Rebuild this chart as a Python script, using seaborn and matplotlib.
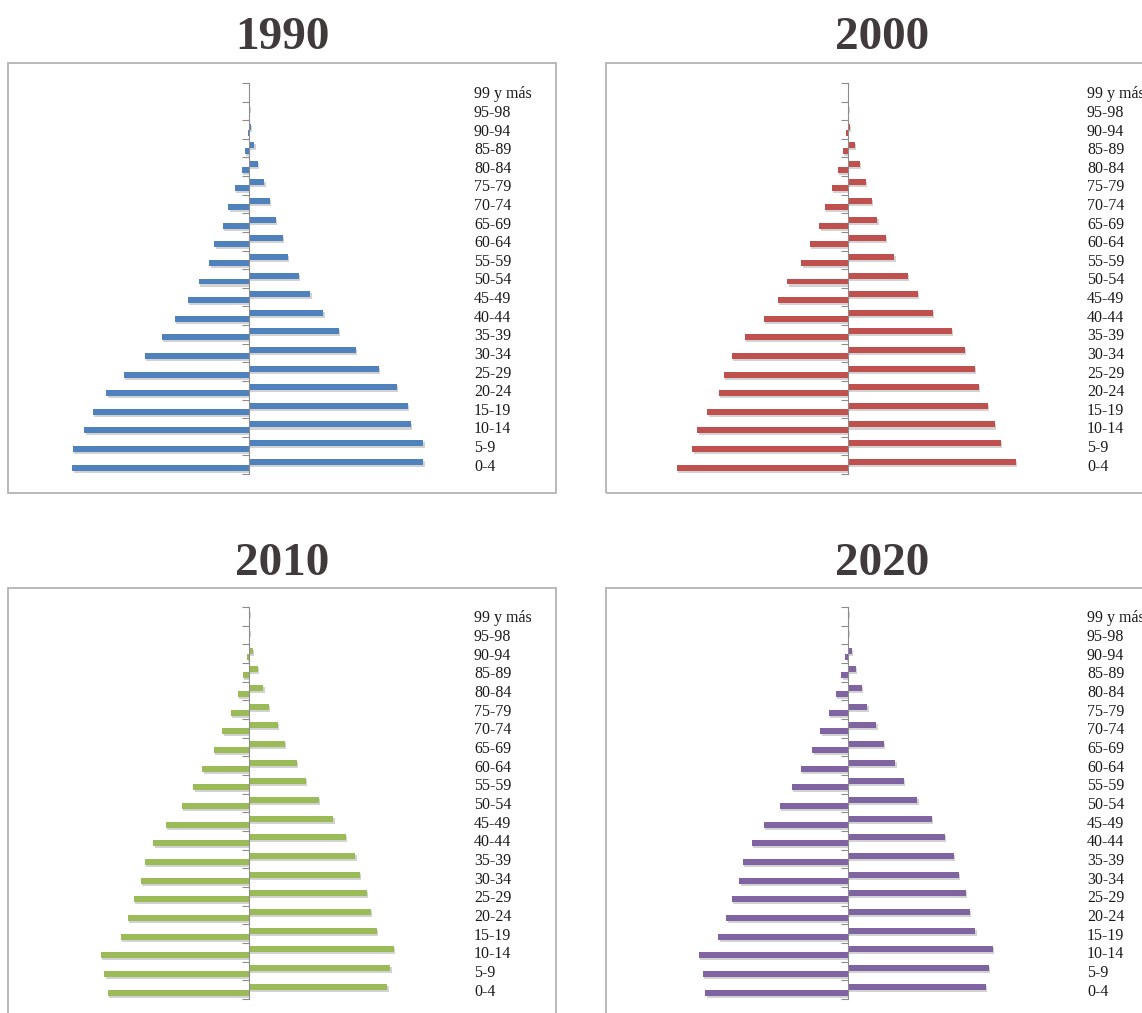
import numpy as np
import pandas as pd
import matplotlib
matplotlib.use("Agg")
from matplotlib import pyplot as plt
from matplotlib.patches import Rectangle
import matplotlib.patheffects as pe
import seaborn as sns

# grupos de edad, de arriba hacia abajo
edades = ["99 y más", "95-98", "90-94", "85-89", "80-84", "75-79", "70-74",
          "65-69", "60-64", "55-59", "50-54", "45-49", "40-44", "35-39",
          "30-34", "25-29", "20-24", "15-19", "10-14", "5-9", "0-4"]

# miles de personas (lado izquierdo = hombres, lado derecho = mujeres)
h1990 = [0, 10, 30, 120, 225, 420, 620, 790, 1040, 1190, 1500, 1840, 2220,
         2610, 3120, 3750, 4280, 4680, 4940, 5290, 5300]
m1990 = [0, 30, 60, 160, 270, 460, 630, 810, 1020, 1170, 1490, 1840, 2230,
         2690, 3200, 3890, 4430, 4770, 4850, 5230, 5230]

h2000 = [0, 10, 50, 165, 300, 480, 690, 860, 1150, 1400, 1820, 2100, 2520,
         3090, 3480, 3720, 3870, 4220, 4520, 4670, 5140]
m2000 = [0, 20, 60, 210, 360, 540, 720, 880, 1140, 1390, 1800, 2090, 2550,
         3120, 3510, 3810, 3930, 4190, 4410, 4590, 5040]

h2010 = [0, 15, 60, 180, 340, 540, 800, 1050, 1400, 1670, 2010, 2500, 2870,
         3130, 3240, 3460, 3630, 3850, 4440, 4340, 4240]
m2010 = [20, 30, 120, 260, 430, 600, 860, 1080, 1440, 1700, 2090, 2530, 2900,
         3190, 3320, 3540, 3650, 3830, 4340, 4240, 4150]

h2020 = [0, 10, 85, 200, 360, 570, 830, 1070, 1420, 1680, 2040, 2520, 2890,
         3150, 3260, 3480, 3650, 3890, 4480, 4360, 4280]
m2020 = [15, 20, 105, 240, 420, 580, 850, 1080, 1420, 1680, 2080, 2510, 2900,
         3180, 3320, 3530, 3650, 3820, 4340, 4230, 4140]

anios = ["1990", "2000", "2010", "2020"]
colores = ["#4f81bd", "#c0504d", "#9bbb59", "#8064a2"]

W, H = 1142, 1013
fig = plt.figure(figsize=(W / 100, H / 100), dpi=100)


def fx(px):
    return px / W


def fy(py):
    return 1 - py / H


escala = 30  # miles de personas por pixel
gris = "#8c8c8c"

# (caja izq, caja arriba, eje x, categorias arriba, categorias abajo, texto x, titulo x, titulo base)
marcos = [(8, 63, 249, 83, 474, 474, 282, 49),
          (606, 63, 848, 83, 474, 1087, 882, 49),
          (8, 588, 249, 607, 999, 474, 282, 575),
          (606, 588, 848, 607, 999, 1087, 882, 575)]
hombres = [h1990, h2000, h2010, h2020]
mujeres = [m1990, m2000, m2010, m2020]

for anio, color, hs, ms, (bl, bt, x0, ct, cb, lx, tx, ty) in zip(
        anios, colores, hombres, mujeres, marcos):
    fig.patches.append(Rectangle((fx(bl), fy(bt + 430)), 548 / W, 430 / H,
                                 transform=fig.transFigure, fill=False,
                                 edgecolor="#b3b3b3", lw=1.3))
    fig.text(fx(tx), fy(ty), anio, ha="center", va="baseline",
             family="Liberation Serif", weight="bold", size=34, color="#413a3b")

    a_izq = bl + 6
    a_der = lx - 7
    ax = fig.add_axes([fx(a_izq), fy(cb), (a_der - a_izq) / W, (cb - ct) / H])
    ax.patch.set_visible(False)

    df = pd.DataFrame({
        "edad": edades * 2,
        "sexo": ["Mujeres"] * len(edades) + ["Hombres"] * len(edades),
        "valor": list(ms) + [-v for v in hs],
    })
    sns.barplot(data=df, x="valor", y="edad", hue="sexo",
                hue_order=["Mujeres", "Hombres"], order=edades,
                palette=[color, color], orient="h", width=0.64,
                saturation=1, errorbar=None, legend=False, linewidth=0, ax=ax)
    for p in ax.patches:
        p.set_path_effects([pe.SimplePatchShadow(offset=(1, -1.5),
                                                 shadow_rgbFace="#7f7f7f",
                                                 alpha=0.35),
                            pe.Normal()])

    ax.set_xlim(-(x0 - a_izq) * escala, (a_der - x0) * escala)
    ax.set_ylim(len(edades) - 0.5, -0.5)
    for s in ["top", "right", "bottom"]:
        ax.spines[s].set_visible(False)
    ax.spines["left"].set_position(("data", 0))
    ax.spines["left"].set_color(gris)
    ax.set_xticks([])
    ax.set_yticks(np.arange(-0.5, len(edades)))
    ax.tick_params(axis="y", length=5, color=gris, labelleft=False)
    ax.set_xlabel("")
    ax.set_ylabel("")

    ax2 = ax.twinx()
    ax2.set_ylim(len(edades) - 0.5, -0.5)
    ax2.set_yticks(range(len(edades)))
    ax2.set_yticklabels(edades, family="Liberation Serif", size=11.5,
                        color="#1a1a1a")
    ax2.tick_params(axis="y", length=0, pad=5)
    for s in ax2.spines.values():
        s.set_visible(False)

fig.savefig("out.png", dpi=100)
